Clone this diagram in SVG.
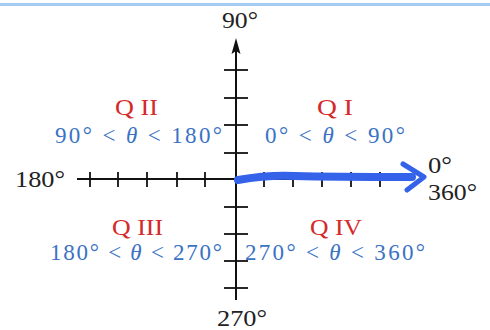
<svg xmlns="http://www.w3.org/2000/svg" width="490" height="330" viewBox="0 0 490 330">
<defs>
<style>
.ax{stroke:#111;stroke-width:2;fill:none}
.tk{stroke:#111;stroke-width:1.8}
.lab{font-family:"Liberation Serif",serif;font-size:24px;fill:#222}
.q{font-family:"Liberation Serif",serif;font-size:23px;fill:#d42a2a}
.rng{font-family:"Liberation Serif",serif;font-size:23px;fill:#3a72c4}
.hand{stroke:#3463ea;fill:none;stroke-linecap:round;stroke-linejoin:round}
</style>
</defs>
<rect width="490" height="330" fill="#fff"/>
<rect x="0" y="3" width="490" height="3" fill="#a6cbf2"/>
<g id="axes">
<line class="ax" x1="236" y1="300" x2="236" y2="44"/>
<path d="M236,38 L240.5,54 L236,51 L231.5,54 Z" fill="#111"/>
<line class="ax" x1="77" y1="179" x2="408" y2="179"/>
<g class="tk">
<line x1="224" y1="70" x2="248" y2="70"/>
<line x1="224" y1="98" x2="248" y2="98"/>
<line x1="224" y1="125" x2="248" y2="125"/>
<line x1="224" y1="153" x2="248" y2="153"/>
<line x1="224" y1="207" x2="248" y2="207"/>
<line x1="224" y1="234" x2="248" y2="234"/>
<line x1="224" y1="261" x2="248" y2="261"/>
<line x1="224" y1="288" x2="248" y2="288"/>
<line x1="90" y1="172" x2="90" y2="187"/>
<line x1="118" y1="172" x2="118" y2="187"/>
<line x1="147" y1="172" x2="147" y2="187"/>
<line x1="177" y1="172" x2="177" y2="187"/>
<line x1="205" y1="172" x2="205" y2="187"/>
<line x1="264" y1="172" x2="264" y2="187"/>
<line x1="293" y1="172" x2="293" y2="187"/>
<line x1="322" y1="172" x2="322" y2="187"/>
<line x1="351" y1="172" x2="351" y2="187"/>
<line x1="380" y1="172" x2="380" y2="187"/>
</g>
</g>
<g id="axis-labels">
<text class="lab" x="222" y="28" textLength="36" lengthAdjust="spacingAndGlyphs">90°</text>
<text class="lab" x="15" y="187" textLength="50" lengthAdjust="spacingAndGlyphs">180°</text>
<text class="lab" x="428" y="173" textLength="24" lengthAdjust="spacingAndGlyphs">0°</text>
<text class="lab" x="428" y="200" textLength="49" lengthAdjust="spacingAndGlyphs">360°</text>
<text class="lab" x="217" y="326" textLength="50" lengthAdjust="spacingAndGlyphs">270°</text>
</g>
<g id="q1">
<text class="q" x="317" y="115" textLength="36" lengthAdjust="spacingAndGlyphs">Q I</text>
<text class="rng" x="265" y="143" textLength="140" lengthAdjust="spacing">0° &lt; <tspan font-style="italic">θ</tspan> &lt; 90°</text>
</g>
<g id="q2">
<text class="q" x="115" y="115" textLength="43" lengthAdjust="spacingAndGlyphs">Q II</text>
<text class="rng" x="55" y="143" textLength="167" lengthAdjust="spacing">90° &lt; <tspan font-style="italic">θ</tspan> &lt; 180°</text>
</g>
<g id="q3">
<text class="q" x="112" y="235" textLength="51" lengthAdjust="spacingAndGlyphs">Q III</text>
<text class="rng" x="50" y="260" textLength="172" lengthAdjust="spacing">180° &lt; <tspan font-style="italic">θ</tspan> &lt; 270°</text>
</g>
<g id="q4">
<text class="q" x="310" y="235" textLength="52" lengthAdjust="spacingAndGlyphs">Q IV</text>
<text class="rng" x="245" y="260" textLength="180" lengthAdjust="spacing">270° &lt; <tspan font-style="italic">θ</tspan> &lt; 360°</text>
</g>
<g id="connectors">
<path class="hand" stroke-width="8" d="M238,180 C255,177 275,175 295,176 C330,177 370,177 412,177"/>
<path class="hand" stroke-width="5" d="M403,164 L424,177 L407,190"/>
</g>
</svg>
